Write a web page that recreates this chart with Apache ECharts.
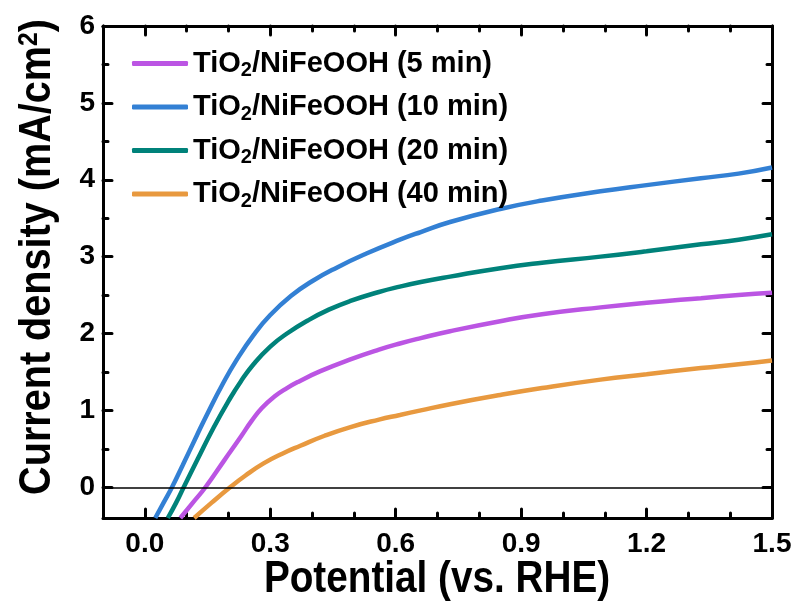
<!DOCTYPE html>
<html>
<head>
<meta charset="utf-8">
<script src="https://cdn.jsdelivr.net/npm/echarts@6/dist/echarts.min.js"></script>
<style>
  html, body { margin: 0; padding: 0; background: #fff; }
  #main { width: 795px; height: 606px; }
</style>
</head>
<body>
<div id="main"></div>
<script>
  // potential (V vs RHE), current density (mA/cm2)
  var pts5min = [[0.085,-0.4],[0.115,-0.2],[0.145,0],[0.19,0.35],[0.23,0.66],[0.255,0.86],[0.28,1.03],[0.31,1.18],
    [0.34,1.29],[0.37,1.38],[0.42,1.51],[0.49,1.66],[0.56,1.79],[0.61,1.87],[0.66,1.94],[0.73,2.03],[0.85,2.16],
    [0.95,2.25],[1.09,2.34],[1.2,2.40],[1.33,2.46],[1.42,2.5],[1.5,2.53]];
  var pts10min = [[0.025,-0.4],[0.045,-0.2],[0.065,0],[0.09,0.28],[0.125,0.68],[0.15,0.96],[0.185,1.33],[0.22,1.66],
    [0.26,1.98],[0.30,2.24],[0.35,2.49],[0.40,2.68],[0.46,2.86],[0.53,3.04],[0.61,3.22],[0.66,3.32],[0.73,3.45],
    [0.85,3.62],[0.95,3.73],[1.09,3.85],[1.2,3.93],[1.33,4.02],[1.42,4.08],[1.5,4.16]];
  var pts20min = [[0.055,-0.4],[0.075,-0.2],[0.093,0],[0.125,0.35],[0.165,0.78],[0.20,1.12],[0.23,1.38],[0.26,1.60],
    [0.30,1.83],[0.34,2.0],[0.39,2.17],[0.44,2.31],[0.49,2.42],[0.56,2.54],[0.61,2.61],[0.66,2.67],[0.73,2.74],
    [0.85,2.85],[0.95,2.92],[1.09,3.0],[1.2,3.07],[1.33,3.16],[1.42,3.22],[1.5,3.29]];
  var pts40min = [[0.118,-0.4],[0.16,-0.2],[0.204,0],[0.24,0.15],[0.284,0.31],[0.33,0.44],[0.372,0.54],[0.43,0.67],
    [0.49,0.78],[0.56,0.88],[0.61,0.94],[0.66,1.0],[0.73,1.08],[0.85,1.20],[0.95,1.29],[1.09,1.40],[1.2,1.47],
    [1.33,1.55],[1.42,1.60],[1.5,1.65]];

  var seriesNames = ['5 min', '10 min', '20 min', '40 min'];
  var seriesColors = ['#bb55e3', '#3380d4', '#00827a', '#e8993f'];

  var xMajor = [0, 0.3, 0.6, 0.9, 1.2, 1.5];
  var xMinor = [-0.1, 0.1, 0.2, 0.4, 0.5, 0.7, 0.8, 1.0, 1.1, 1.3, 1.4];
  var yMajor = [0, 1, 2, 3, 4, 5, 6];
  var yMinor = [0.5, 1.5, 2.5, 3.5, 4.5, 5.5];

  var FONT = 'Liberation Sans, Arial, sans-serif';

  var chart = echarts.init(document.getElementById('main'));

  function tickAxis(pos, values, len, showLine) {
    return {
      type: 'value', position: pos,
      axisLine: { show: showLine, onZero: false, lineStyle: { color: '#000', width: 3 } },
      axisTick: { show: true, inside: true, length: len, customValues: values,
        lineStyle: { color: '#000', width: 3, cap: 'round' } },
      axisLabel: { show: false },
      splitLine: { show: false }
    };
  }

  var xAxes = [
    Object.assign(tickAxis('bottom', xMajor, 9, true), {
      min: -0.1, max: 1.5,
      axisLabel: { show: true, customValues: xMajor, margin: 12,
        formatter: function (v) { return v.toFixed(1); },
        color: '#000', fontFamily: FONT, fontWeight: 'bold', fontSize: 28 }
    }),
    Object.assign(tickAxis('top', xMajor, 9, true), { min: -0.1, max: 1.5 }),
    Object.assign(tickAxis('bottom', xMinor, 5, false), { min: -0.1, max: 1.5 }),
    Object.assign(tickAxis('top', xMinor, 5, false), { min: -0.1, max: 1.5 })
  ];

  var yAxes = [
    Object.assign(tickAxis('left', yMajor, 9, true), {
      min: -0.4, max: 6,
      axisLabel: { show: true, customValues: yMajor, margin: 8,
        color: '#000', fontFamily: FONT, fontWeight: 'bold', fontSize: 28 }
    }),
    Object.assign(tickAxis('right', yMajor, 9, true), { min: -0.4, max: 6 }),
    Object.assign(tickAxis('left', yMinor, 5, false), { min: -0.4, max: 6 }),
    Object.assign(tickAxis('right', yMinor, 5, false), { min: -0.4, max: 6 })
  ];

  var allPts = [pts5min, pts10min, pts20min, pts40min];
  var series = allPts.map(function (pts, i) {
    return {
      name: seriesNames[i], type: 'line', data: pts,
      xAxisIndex: 0, yAxisIndex: 0,
      smooth: 0.5, showSymbol: false, symbol: 'none', animation: false,
      lineStyle: { color: seriesColors[i], width: 4.5 },
      itemStyle: { color: seriesColors[i] }
    };
  });
  // zero reference line
  series[0].markLine = {
    silent: true, symbol: 'none', label: { show: false }, animation: false,
    lineStyle: { color: '#000', width: 1.5, type: 'solid' },
    data: [{ yAxis: 0 }]
  };

  chart.setOption({
    backgroundColor: '#fff',
    animation: false,
    grid: { left: 103, right: 23, top: 26, bottom: 88, outerBoundsMode: 'none' },
    legend: {
      orient: 'vertical', left: 132, top: 49, padding: 0,
      icon: 'roundRect', itemWidth: 56, itemHeight: 5, itemGap: 12,
      data: seriesNames,
      formatter: function (n) { return '{a|TiO}{s|2}{a|/NiFeOOH (' + n + ')}'; },
      textStyle: {
        color: '#000',
        rich: {
          a: { fontFamily: FONT, fontWeight: 'bold', fontSize: 29, lineHeight: 34, color: '#000' },
          s: { fontFamily: FONT, fontWeight: 'bold', fontSize: 20, lineHeight: 12, verticalAlign: 'bottom', color: '#000' }
        }
      }
    },
    graphic: [
      {
        type: 'text', x: 437, y: 580, scaleX: 0.86, silent: true,
        style: { text: 'Potential (vs. RHE)', fill: '#000', fontFamily: FONT, fontWeight: 'bold', fontSize: 45,
          align: 'center', verticalAlign: 'middle' }
      },
      {
        type: 'text', x: 38, y: 257, rotation: Math.PI / 2, scaleX: 0.88, silent: true,
        style: { text: 'Current density (mA/cm{sup|2})', fill: '#000', fontFamily: FONT, fontWeight: 'bold',
          fontSize: 45, align: 'center', verticalAlign: 'middle',
          rich: {
            sup: { fontFamily: FONT, fontWeight: 'bold', fontSize: 28, lineHeight: 14, verticalAlign: 'top', fill: '#000' }
          } }
      }
    ],
    xAxis: xAxes,
    yAxis: yAxes,
    series: series
  });
</script>
</body>
</html>
